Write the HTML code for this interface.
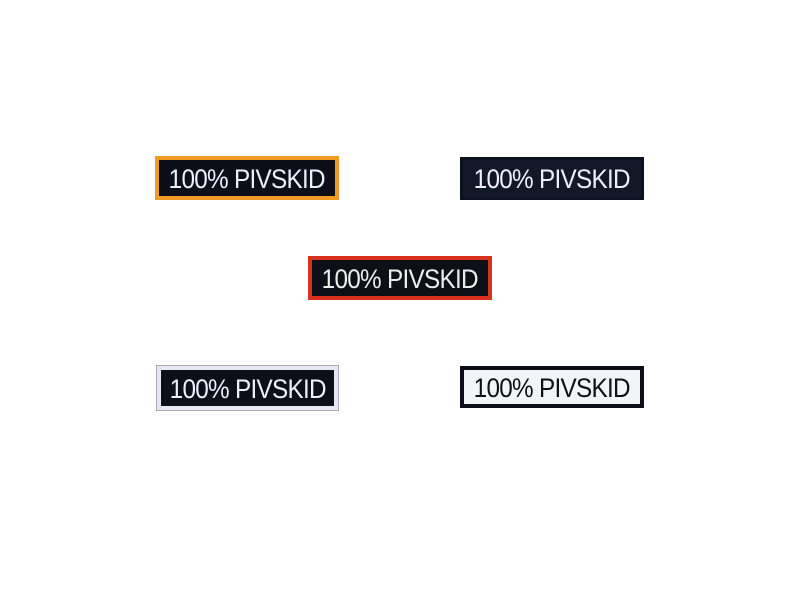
<!DOCTYPE html>
<html><head><style>
body{margin:0;width:800px;height:600px;background:#fff;position:relative;overflow:hidden}
.p{position:absolute;box-sizing:border-box;display:flex;align-items:center;justify-content:center;font-family:"Liberation Sans",sans-serif;font-size:27px;letter-spacing:-0.8px;padding-top:2px;white-space:nowrap;overflow:visible}
.p span{display:inline-block;transform:scaleX(0.9);white-space:nowrap}
</style></head><body>
<div class="p" style="left:155px;top:156px;width:184px;height:44px;background:#0c0e18;border:4px solid #f29a26;color:#eef;"><span>100% PIVSKID</span></div>
<div class="p" style="left:460px;top:157px;width:184px;height:43px;background:#121828;border:3px solid #0d1220;color:#eef;"><span>100% PIVSKID</span></div>
<div class="p" style="left:308px;top:256px;width:184px;height:44px;background:#0e1018;border:4px solid #d8321e;color:#eee;"><span>100% PIVSKID</span></div>
<div class="p" style="left:157px;top:366px;width:181px;height:44px;background:#0c0e18;border:4px solid #e4e8f0;outline:1px solid #aab;color:#eef;"><span>100% PIVSKID</span></div>
<div class="p" style="left:460px;top:366px;width:184px;height:42px;background:#f2f4f8;border:4px solid #0c0e18;color:#111;"><span>100% PIVSKID</span></div>
</body></html>
